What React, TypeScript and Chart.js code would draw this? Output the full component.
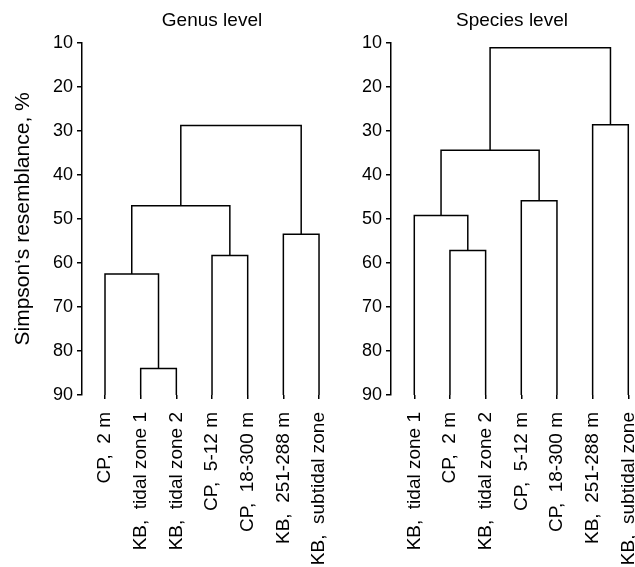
import React, { useEffect, useRef } from 'react';
import { Chart, registerables } from 'chart.js';

Chart.register(...registerables);

// ---- data ----
const genusLabels = ['CP,  2 m', 'KB,  tidal zone 1', 'KB,  tidal zone 2', 'CP,  5-12 m', 'CP,  18-300 m', 'KB,  251-288 m', 'KB,  subtidal zone'];
const speciesLabels = ['KB,  tidal zone 1', 'CP,  2 m', 'KB,  tidal zone 2', 'CP,  5-12 m', 'CP,  18-300 m', 'KB,  251-288 m', 'KB,  subtidal zone'];
// merges: [node A, node B, resemblance level]; leaves are 0..6, each merge creates node 7, 8, ...
const genusMerges: number[][] = [[1, 2, 84], [0, 7, 62.5], [3, 4, 58.3], [8, 9, 47], [5, 6, 53.5], [10, 11, 28.8]];
const speciesMerges: number[][] = [[1, 2, 57.2], [0, 7, 49.2], [3, 4, 45.9], [8, 9, 34.4], [5, 6, 28.6], [10, 11, 11.1]];
const yTickValues = [10, 20, 30, 40, 50, 60, 70, 80, 90];
const leafLevel = 90;
const genusTitle = 'Genus level';
const speciesTitle = 'Species level';
const yAxisTitle = 'Simpson\u2018s resemblance, %';

const FONT = "'Liberation Sans', Arial, Helvetica, sans-serif";

function buildLinks(n: number, merges: number[][]) {
  const pos: number[] = [];
  const lev: number[] = [];
  for (let i = 0; i < n; i++) { pos.push(i); lev.push(leafLevel); }
  return merges.map(([a, b, h]) => {
    const pts = [
      { x: pos[a], y: lev[a] },
      { x: pos[a], y: h },
      { x: pos[b], y: h },
      { x: pos[b], y: lev[b] },
    ];
    pos.push((pos[a] + pos[b]) / 2);
    lev.push(h);
    return pts;
  });
}

function makeConfig(labels: string[], merges: number[][], title: string, showYTitle: boolean, yWidth: number, xMin: number, xMax: number): any {
  const links = buildLinks(labels.length, merges);
  return {
    type: 'scatter',
    data: {
      datasets: links.map((pts) => ({
        data: pts,
        showLine: true,
        borderColor: '#000',
        borderWidth: 1.5,
        pointRadius: 0,
        tension: 0,
        fill: false,
      })),
    },
    options: {
      responsive: false,
      animation: false,
      events: [],
      layout: { padding: 0 },
      plugins: {
        legend: { display: false },
        tooltip: { enabled: false },
        title: {
          display: true,
          text: title,
          color: '#000',
          font: { family: FONT, size: 19, weight: 'normal' },
          padding: { top: 9, bottom: 11 },
        },
      },
      scales: {
        x: {
          type: 'linear',
          min: xMin,
          max: xMax,
          afterBuildTicks: (axis: any) => { axis.ticks = labels.map((_, i) => ({ value: i })); },
          afterFit: (scale: any) => { scale.height = 172; },
          border: { display: false },
          grid: { display: true, drawOnChartArea: false, drawTicks: true, tickLength: 4, color: '#000', lineWidth: 1.5 },
          ticks: {
            autoSkip: false,
            minRotation: 90,
            maxRotation: 90,
            padding: 13,
            color: '#000',
            font: { family: FONT, size: 19 },
            callback: (v: any) => labels[Math.round(v)] ?? '',
          },
        },
        y: {
          type: 'linear',
          reverse: true,
          min: 10,
          max: 90,
          afterBuildTicks: (axis: any) => { axis.ticks = yTickValues.map((v) => ({ value: v })); },
          afterFit: (scale: any) => { scale.width = yWidth; },
          border: { display: true, color: '#000', width: 1.5 },
          grid: { display: true, drawOnChartArea: false, drawTicks: true, tickLength: 5, color: '#000', lineWidth: 1.5 },
          ticks: { padding: 4, color: '#000', font: { family: FONT, size: 18 } },
          title: {
            display: showYTitle,
            text: yAxisTitle,
            color: '#000',
            font: { family: FONT, size: 21 },
            padding: { top: 11, bottom: 0 },
          },
        },
      },
    },
  };
}

export default function App() {
  const ref1 = useRef<HTMLCanvasElement>(null);
  const ref2 = useRef<HTMLCanvasElement>(null);

  useEffect(() => {
    const c1 = new Chart(ref1.current as HTMLCanvasElement, makeConfig(genusLabels, genusMerges, genusTitle, true, 82, -0.645, 8.943));
    const c2 = new Chart(ref2.current as HTMLCanvasElement, makeConfig(speciesLabels, speciesMerges, speciesTitle, false, 61, -0.653, 7.842));
    return () => { c1.destroy(); c2.destroy(); };
  }, []);

  return (
    <div style={{ position: 'fixed', left: 0, top: 0, width: 635, height: 567, overflow: 'hidden', background: '#fff' }}>
      <canvas ref={ref1} width={424} height={567} style={{ position: 'absolute', left: 0, top: 0 }} />
      <canvas ref={ref2} width={364} height={567} style={{ position: 'absolute', left: 330, top: 0 }} />
    </div>
  );
}
